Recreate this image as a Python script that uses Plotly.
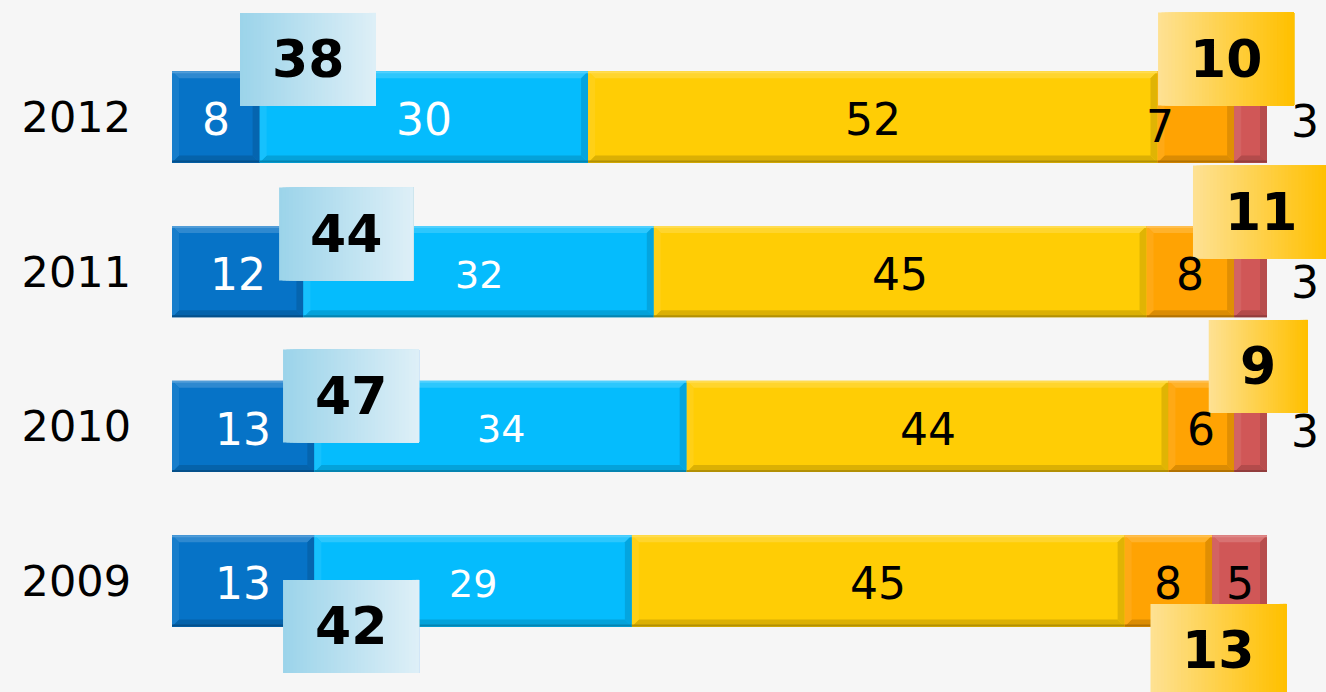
import plotly.graph_objects as go

# survey shares per year, bottom to top
years = ["2009", "2010", "2011", "2012"]
very_good = [13, 13, 12, 8]
good = [29, 34, 32, 30]
neutral = [45, 44, 45, 52]
bad = [8, 6, 8, 7]
very_bad = [5, 3, 3, 3]

series = [very_good, good, neutral, bad, very_bad]
colors = ["#0673c7", "#05bcfd", "#ffcd05", "#ffa303", "#d05757"]
text_colors = ["white", "white", "black", "black", "black"]

# summed callouts
positive_total = [a + b for a, b in zip(very_good, good)]
negative_total = [a + b for a, b in zip(bad, very_bad)]

# ---- layout geometry ----
W, H = 1326, 692
ml = 172
sx = 10.95                      # px per percentage point
x_range = [0, (W - ml) / sx]    # bars fill 0..100, the rest is room for labels
y_range = [-0.718, 3.756]
sy = H / (y_range[1] - y_range[0])
bar_w = 0.59
FONT = "DejaVu Sans"

# callout box placement (x centre in value units, y offset from bar, width in px)
pos_box_x = [16.35, 16.35, 15.9, 12.42]
pos_box_dy = [-0.294, 0.196, 0.243, 0.372]
pos_box_w = [136, 136, 134, 136]
neg_box_x = [95.57, 99.2, 99.45, 96.26]
neg_box_dy = [-0.449, 0.387, 0.386, 0.375]
neg_box_w = [136, 99, 136, 136]
box_h = 93


def mix(hex_color, other, f):
    c = [int(hex_color[i:i + 2], 16) for i in (1, 3, 5)]
    return "rgb(%d,%d,%d)" % tuple(round(v + (o - v) * f) for v, o in zip(c, other))


def lighten(c, f):
    return mix(c, (255, 255, 255), f)


def darken(c, f):
    return mix(c, (0, 0, 0), f)


fig = go.Figure()
ypos = list(range(len(years)))

for vals, col in zip(series, colors):
    fig.add_trace(go.Bar(y=ypos, x=vals, orientation="h", width=bar_w,
                         marker=dict(color=col, line=dict(width=0)),
                         hoverinfo="x"))

shapes = []
annotations = []

# bevel look on each segment
bx = 7 / sx
by = 7 / sy
for yi in ypos:
    start = 0
    for vals, col in zip(series, colors):
        x0, x1 = start, start + vals[yi]
        y0, y1 = yi - bar_w / 2, yi + bar_w / 2
        start = x1
        paths = [
            (f"M{x0},{y1} L{x1},{y1} L{x1-bx},{y1-by} L{x0+bx},{y1-by} Z", lighten(col, 0.16)),
            (f"M{x0},{y0} L{x1},{y0} L{x1-bx},{y0+by} L{x0+bx},{y0+by} Z", darken(col, 0.14)),
            (f"M{x0},{y0} L{x0},{y1} L{x0+bx},{y1-by} L{x0+bx},{y0+by} Z", lighten(col, 0.07)),
            (f"M{x1},{y0} L{x1},{y1} L{x1-bx},{y1-by} L{x1-bx},{y0+by} Z", darken(col, 0.12)),
        ]
        for p, fc in paths:
            shapes.append(dict(type="path", path=p, xref="x", yref="y",
                               fillcolor=fc, line=dict(width=0), layer="above"))
        shapes.append(dict(type="rect", xref="x", yref="y", x0=x0, x1=x1,
                           y0=y1 - 2 / sy, y1=y1, fillcolor=lighten(col, 0.3),
                           line=dict(width=0), layer="above"))
        shapes.append(dict(type="rect", xref="x", yref="y", x0=x0, x1=x1,
                           y0=y0, y1=y0 + 2 / sy, fillcolor=darken(col, 0.3),
                           line=dict(width=0), layer="above"))


def gradient_box(cx, cy, w_px, c_left, c_right, steps=40):
    # stacked rects, each running to the right edge, so no seams show
    w = w_px / sx
    h = box_h / sy
    x0 = cx - w / 2
    cl = [int(c_left[i:i + 2], 16) for i in (1, 3, 5)]
    for k in range(steps):
        f = k / (steps - 1)
        shapes.append(dict(type="rect", xref="x", yref="y",
                           x0=x0 + w * k / steps, x1=x0 + w,
                           y0=cy - h / 2, y1=cy + h / 2,
                           fillcolor=mix(c_right, cl, 1 - f),
                           line=dict(width=0), layer="above"))


# value labels
label_shift = {(3, 3): (-36, -10)}
for si, (vals, tc) in enumerate(zip(series, text_colors)):
    for yi in ypos:
        start = sum(s[yi] for s in series[:si])
        v = vals[yi]
        x = start + v / 2
        dx, dy = label_shift.get((yi, si), (0, -3))
        size = 44
        if si == 1 and yi < 3:
            size = 38
        if si == len(series) - 1 and v < 4:
            # too thin to hold its label: write it past the bar end
            x = 100 + 38 / sx
            dy = -11 if yi == 2 else -5
        annotations.append(dict(x=x, y=yi, xref="x", yref="y", text=str(v),
                                showarrow=False, xshift=dx, yshift=dy,
                                font=dict(family=FONT, size=size, color=tc)))

# callout boxes
for yi in ypos:
    gradient_box(pos_box_x[yi], yi + pos_box_dy[yi], pos_box_w[yi], "#9cd4ea", "#ddeff7")
    gradient_box(neg_box_x[yi], yi + neg_box_dy[yi], neg_box_w[yi], "#fee192", "#ffc000")
    for bxc, dyc, tot in ((pos_box_x, pos_box_dy, positive_total),
                          (neg_box_x, neg_box_dy, negative_total)):
        annotations.append(dict(x=bxc[yi], y=yi + dyc[yi], xref="x", yref="y",
                                text="<b>%d</b>" % tot[yi], showarrow=False,
                                font=dict(family=FONT, size=52, color="black")))

fig.update_layout(
    width=W, height=H,
    barmode="stack",
    showlegend=False,
    paper_bgcolor="#f6f6f6",
    plot_bgcolor="#f6f6f6",
    margin=dict(l=ml, r=0, t=0, b=0),
    xaxis=dict(range=x_range, visible=False, fixedrange=True),
    yaxis=dict(range=y_range, tickvals=ypos, ticktext=years, showgrid=False,
               zeroline=False, showline=False, ticks="", ticklabelstandoff=40,
               tickfont=dict(family=FONT, size=43, color="black"), fixedrange=True),
    shapes=shapes,
    annotations=annotations,
)

fig.write_html("out.html", config={"displayModeBar": False},
               post_script="document.body.style.margin='0';"
                           "document.body.style.background='#f6f6f6';")
